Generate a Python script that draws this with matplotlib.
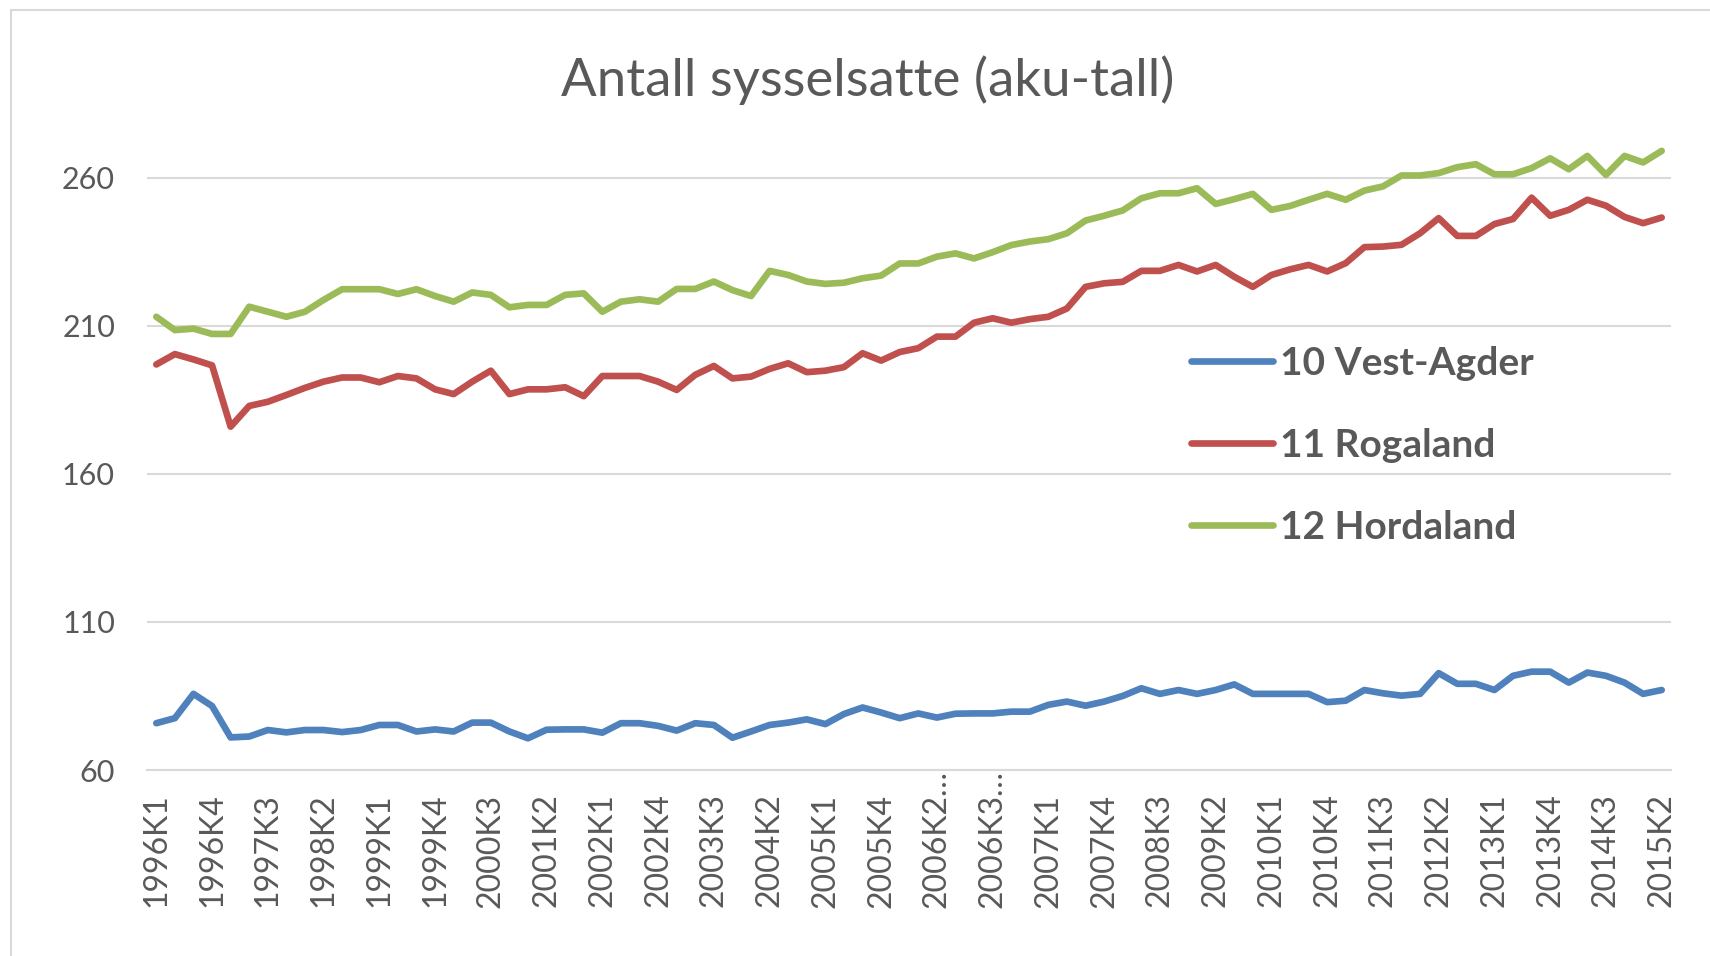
import numpy as np
import matplotlib.pyplot as plt
from matplotlib.patches import Rectangle
from matplotlib.transforms import ScaledTranslation

# categories: quarters, 2006 appears twice (series break)
quarters = ([f'{y}K{q}' for y in range(1996, 2006) for q in range(1, 5)]
            + [f'2006K{q}…' for q in range(1, 5) for _ in range(2)]
            + [f'{y}K{q}' for y in range(2007, 2016) for q in range(1, 5)][:34])

vest_agder = [75.8, 77.5, 85.7, 81.6, 71.0, 71.3, 73.5, 72.7, 73.5, 73.5,
              72.8, 73.5, 75.2, 75.2, 73.0, 73.7, 73.0, 76.0, 76.0, 73.0,
              70.7, 73.6, 73.7, 73.7, 72.6, 75.8, 75.8, 74.9, 73.3, 75.8,
              75.2, 70.9, 73.0, 75.2, 76.0, 77.1, 75.5, 78.9, 81.1, 79.4,
              77.5, 79.1, 77.7, 79.0, 79.1, 79.1, 79.7, 79.7, 82.0, 83.1,
              81.7, 83.1, 85.0, 87.6, 85.7, 87.0, 85.7, 87.0, 88.9, 85.7,
              85.7, 85.7, 85.7, 82.9, 83.4, 87.0, 85.9, 85.1, 85.7, 92.7,
              89.1, 89.1, 87.0, 91.8, 93.2, 93.2, 89.5, 92.9, 91.8, 89.5,
              85.7, 87.0]

rogaland = [196.9, 200.4, 198.6, 196.6, 175.9, 182.9, 184.3, 186.6, 189.0, 191.1,
            192.5, 192.5, 190.9, 193.0, 192.2, 188.5, 186.9, 191.1, 194.8, 186.9,
            188.5, 188.5, 189.2, 186.2, 193.0, 193.0, 193.0, 191.1, 188.3, 193.4,
            196.4, 192.2, 192.8, 195.4, 197.3, 194.3, 194.8, 196.0, 200.7, 198.2,
            201.1, 202.4, 206.3, 206.3, 211.0, 212.5, 211.0, 212.2, 213.0, 215.8,
            223.1, 224.3, 224.8, 228.5, 228.5, 230.5, 228.3, 230.5, 226.5, 223.1,
            227.1, 229.0, 230.5, 228.3, 231.1, 236.5, 236.7, 237.3, 241.2, 246.3,
            240.3, 240.3, 244.3, 246.0, 253.2, 247.1, 249.1, 252.5, 250.5, 246.7,
            244.6, 246.5]

hordaland = [213.0, 208.5, 209.0, 207.2, 207.2, 216.4, 214.7, 213.0, 214.7, 218.7,
             222.3, 222.3, 222.3, 220.7, 222.3, 220.0, 218.1, 221.2, 220.4, 216.2,
             217.0, 217.0, 220.4, 220.9, 214.7, 218.1, 218.9, 218.1, 222.4, 222.4,
             224.9, 222.0, 220.0, 228.5, 227.1, 224.9, 224.1, 224.5, 226.0, 226.9,
             231.0, 231.0, 233.3, 234.4, 232.7, 234.8, 237.2, 238.4, 239.2, 241.2,
             245.5, 247.1, 248.9, 253.0, 254.7, 254.7, 256.4, 251.1, 252.7, 254.5,
             249.1, 250.4, 252.5, 254.5, 252.5, 255.6, 257.0, 260.7, 260.7, 261.5,
             263.5, 264.5, 261.1, 261.1, 263.2, 266.5, 262.8, 267.3, 260.9, 267.3,
             265.1, 269.0]

series = [('10 Vest-Agder', vest_agder, '#4F81BD'),
          ('11 Rogaland', rogaland, '#C0504D'),
          ('12 Hordaland', hordaland, '#9BBB59')]
yticks = [60, 110, 160, 210, 260]

plt.rcParams['font.family'] = ['Lato', 'DejaVu Sans']
grey = '#595959'
W, H = 1710, 956

fig = plt.figure(figsize=(W / 100, H / 100), dpi=100)
ax = fig.add_axes([147 / W, 1 - 770 / H, (1671 - 147) / W, (770 - 142) / H])

x = np.arange(len(quarters))
for name, vals, col in series:
    ax.plot(x, vals, color=col, lw=4.8, label=name,
            solid_joinstyle='round', solid_capstyle='round')

ax.set_xlim(-0.5, len(quarters) - 0.5)
ax.set_ylim(60, 272)
ax.set_yticks(yticks)
ax.grid(axis='y', color='#D9D9D9', lw=1.5)
ax.set_axisbelow(True)
for s in ['top', 'right', 'left']:
    ax.spines[s].set_visible(False)
ax.spines['bottom'].set_color('#D9D9D9')
ax.spines['bottom'].set_linewidth(1.5)

ax.set_xticks(x[::3])
ax.set_xticklabels([quarters[i] for i in x[::3]], rotation=90)
ax.tick_params(axis='x', length=0, pad=17, labelsize=23, labelcolor=grey)
ax.tick_params(axis='y', length=0, pad=23, labelsize=22, labelcolor=grey)

# truncated labels: let the ellipsis run up to the axis like in Excel
for lab in ax.get_xticklabels():
    if lab.get_text().endswith('…'):
        lab.set_transform(lab.get_transform()
                          + ScaledTranslation(0, 0.24, fig.dpi_scale_trans))

fig.text(868 / W, 1 - 80 / H, 'Antall sysselsatte (aku-tall)',
         ha='center', va='center', fontsize=38, color=grey)

leg = ax.legend(loc='upper left', bbox_to_anchor=(1191 / W, 1 - 346 / H),
                bbox_transform=fig.transFigure, frameon=False,
                prop={'weight': 'bold', 'size': 28}, handlelength=2.1,
                handletextpad=0.2, labelspacing=1.21, borderpad=0,
                borderaxespad=0)
for t in leg.get_texts():
    t.set_color(grey)

fig.patches.append(Rectangle((11 / W, -0.05), 1.2, 1 - 10 / H + 0.05,
                             transform=fig.transFigure, fill=False,
                             ec='#D9D9D9', lw=1.5))

fig.savefig('out.png', dpi=100)
